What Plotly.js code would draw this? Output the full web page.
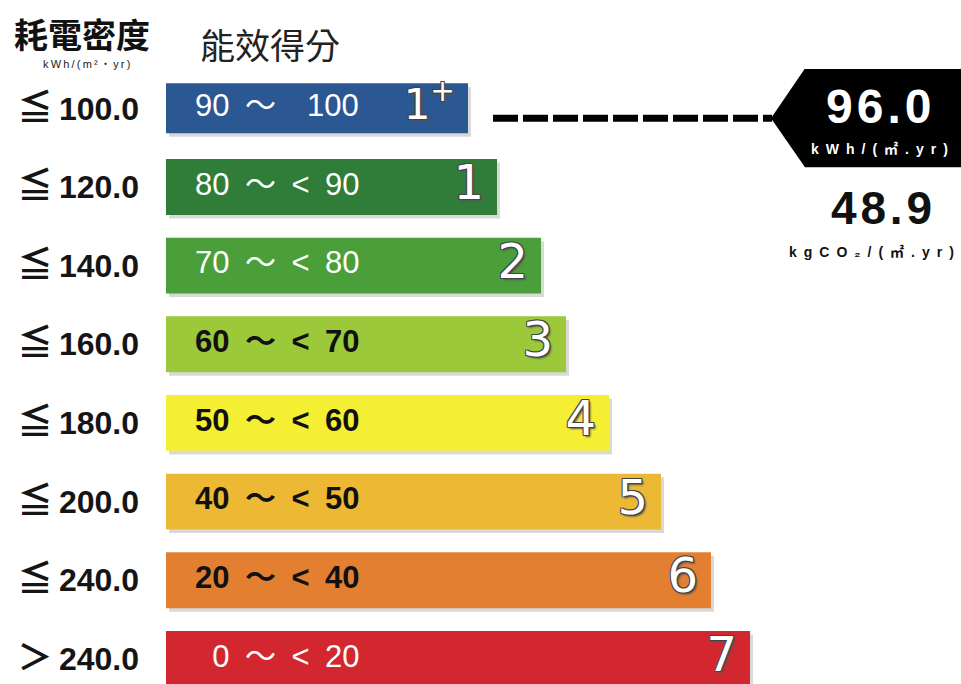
<!DOCTYPE html>
<html>
<head>
<meta charset="utf-8">
<script src="https://cdn.plot.ly/plotly-3.0.1.min.js"></script>
<style>html,body{margin:0;padding:0;background:#fff;}#chart{width:961px;height:684px;}</style>
</head>
<body>
<div id="chart"></div>
<script>
// ---- data ----
const rowSymbols = ['≦', '≦', '≦', '≦', '≦', '≦', '≦', '＞'];
const rowValues = ['100.0', '120.0', '140.0', '160.0', '180.0', '200.0', '240.0', '240.0'];
const scoreRanges = ['90 ～  100', '80 ～ < 90', '70 ～ < 80', '60 ～ < 70', '50 ～ < 60', '40 ～ < 50', '20 ～ < 40', '\u20070 ～ < 20'];
const grades = ['1<sup>+</sup>', '1', '2', '3', '4', '5', '6', '7'];
const barLengths = [302, 331, 375, 400, 443, 495, 545, 584];
const barColors = ['#2b5892', '#2f7d38', '#4a9f3b', '#9bc93a', '#f4ef33', '#edb935', '#e37f31', '#d3272f'];
const darkText = [false, false, false, true, true, true, true, false];
const energyValue = '96.0';
const energyUnit = 'kWh/(㎡.yr)';
const carbonValue = '48.9';
const carbonUnit = 'kgCO₂/(㎡.yr)';
const headerLeft = '耗電密度';
const headerLeftUnit = 'kWh/(m²‧yr)';
const headerRight = '能效得分';

// ---- geometry helpers (pixel -> axis / paper units) ----
const L = 166, T = 68.6, ROW = 78.7, W = 961, H = 684;
const PW = W - L, PH = H - T;
const X = px => px - L;
const Y = py => (py - T) / ROW - 0.5;
const XP = px => (px - L) / PW;
const YP = py => 1 - (py - T) / PH;
const rows = rowValues.map((_, i) => i);
const sp = (s, ch) => Array.from(s).join(ch);
const wide = s => s.replace(/ /g, '\u2002');

const cjk = '"Noto Sans CJK TC", "Noto Sans CJK SC", sans-serif';
const latin = '"Liberation Sans", Arial, "Noto Sans CJK TC", sans-serif';
const rowLabels = rows.map(i => '<span style="font-family:Noto Sans CJK TC;font-size:35px;font-weight:bold">' + rowSymbols[i] + '</span>\u2009' + rowValues[i]);

function rangeTrace(idx, color, weight) {
  return {
    type: 'scatter', mode: 'text', y: idx, x: idx.map(() => 29),
    text: idx.map(i => wide(scoreRanges[i])), textposition: 'middle right', cliponaxis: false,
    textfont: { family: latin, size: 31, color: color, weight: weight },
    hoverinfo: 'skip', showlegend: false
  };
}

const barWidths = [0.635, 0.71, 0.71, 0.71, 0.71, 0.71, 0.71, 0.71];

const traces = [
  { // drop shadow
    type: 'bar', orientation: 'h', y: rows, x: barLengths, base: 3,
    width: barWidths, offset: barWidths.map(w => -w / 2 + 0.045),
    marker: { color: 'rgba(0,0,0,0.15)', line: { width: 0 } },
    hoverinfo: 'skip', showlegend: false
  },
  {
    type: 'bar', orientation: 'h', y: rows, x: barLengths, base: 0,
    width: barWidths,
    marker: { color: barColors, line: { width: 0 } },
    hoverinfo: 'skip', showlegend: false
  },
  rangeTrace(rows.filter(i => !darkText[i]), '#ffffff', 'normal'),
  rangeTrace(rows.filter(i => darkText[i]), '#111111', 'bold'),
  {
    type: 'scatter', mode: 'text', y: rows, x: barLengths.map(v => v - 13),
    text: grades, textposition: 'middle left', cliponaxis: false,
    textfont: { family: '"DejaVu Sans", sans-serif', size: rows.map(i => i === 0 ? 42 : 48), color: '#ffffff',
      shadow: '-1px -1px 0 #444, 1px -1px 0 #444, -1px 1px 0 #444, 1px 1px 0 #444, 2px 2px 2px #555' },
    hoverinfo: 'skip', showlegend: false
  }
];

const tagPath = 'M ' + X(805) + ',' + Y(68) + ' L ' + X(990) + ',' + Y(68) + ' L ' + X(990) + ',' + Y(167) +
  ' L ' + X(805) + ',' + Y(167) + ' L ' + X(771) + ',' + Y(118) + ' Z';

function ann(px, py, text, font, anchor) {
  return { xref: 'paper', yref: 'paper', x: XP(px), y: YP(py), xanchor: anchor || 'center', yanchor: 'middle',
    showarrow: false, text: text, font: font };
}

const layout = {
  width: W, height: H,
  margin: { l: L, r: 0, t: T, b: 0, pad: 0 },
  paper_bgcolor: '#ffffff', plot_bgcolor: '#ffffff',
  barmode: 'overlay',
  showlegend: false,
  xaxis: { range: [0, PW], visible: false, fixedrange: true },
  yaxis: {
    range: [PH / ROW - 0.5, -0.5], tickvals: rows, ticktext: rowLabels,
    showgrid: false, zeroline: false, showline: false, ticks: '',
    ticklabelstandoff: 26,
    tickfont: { family: latin, size: 32, color: '#151515', weight: 'bold' },
    fixedrange: true
  },
  shapes: [
    { type: 'line', xref: 'x', yref: 'y', x0: X(493), x1: X(772), y0: Y(118), y1: Y(118),
      line: { color: '#000000', width: 7, dash: '25px,5px' } },
    { type: 'path', xref: 'x', yref: 'y', path: tagPath, fillcolor: '#000000', line: { width: 0 } }
  ],
  annotations: [
    ann(12, 33, headerLeft, { family: cjk, size: 34, color: '#111', weight: 'bold' }, 'left'),
    ann(86, 64, sp(headerLeftUnit, '\u2009'), { family: latin, size: 11, color: '#222' }),
    ann(198, 43, headerRight, { family: cjk, size: 35, color: '#222' }, 'left'),
    ann(878, 106, sp(energyValue, '\u200A'), { family: latin, size: 48, color: '#ffffff', weight: 'bold' }),
    ann(879, 149, sp(energyUnit, '\u2002'), { family: latin, size: 14, color: '#ffffff', weight: 'bold' }),
    ann(881, 208, sp(carbonValue, '\u200A'), { family: latin, size: 46, color: '#111111', weight: 'bold' }),
    ann(871, 252, sp(carbonUnit, '\u2002'), { family: latin, size: 14, color: '#111111', weight: 'bold' })
  ]
};

Plotly.newPlot('chart', traces, layout, { displayModeBar: false, staticPlot: true });
</script>
</body>
</html>
